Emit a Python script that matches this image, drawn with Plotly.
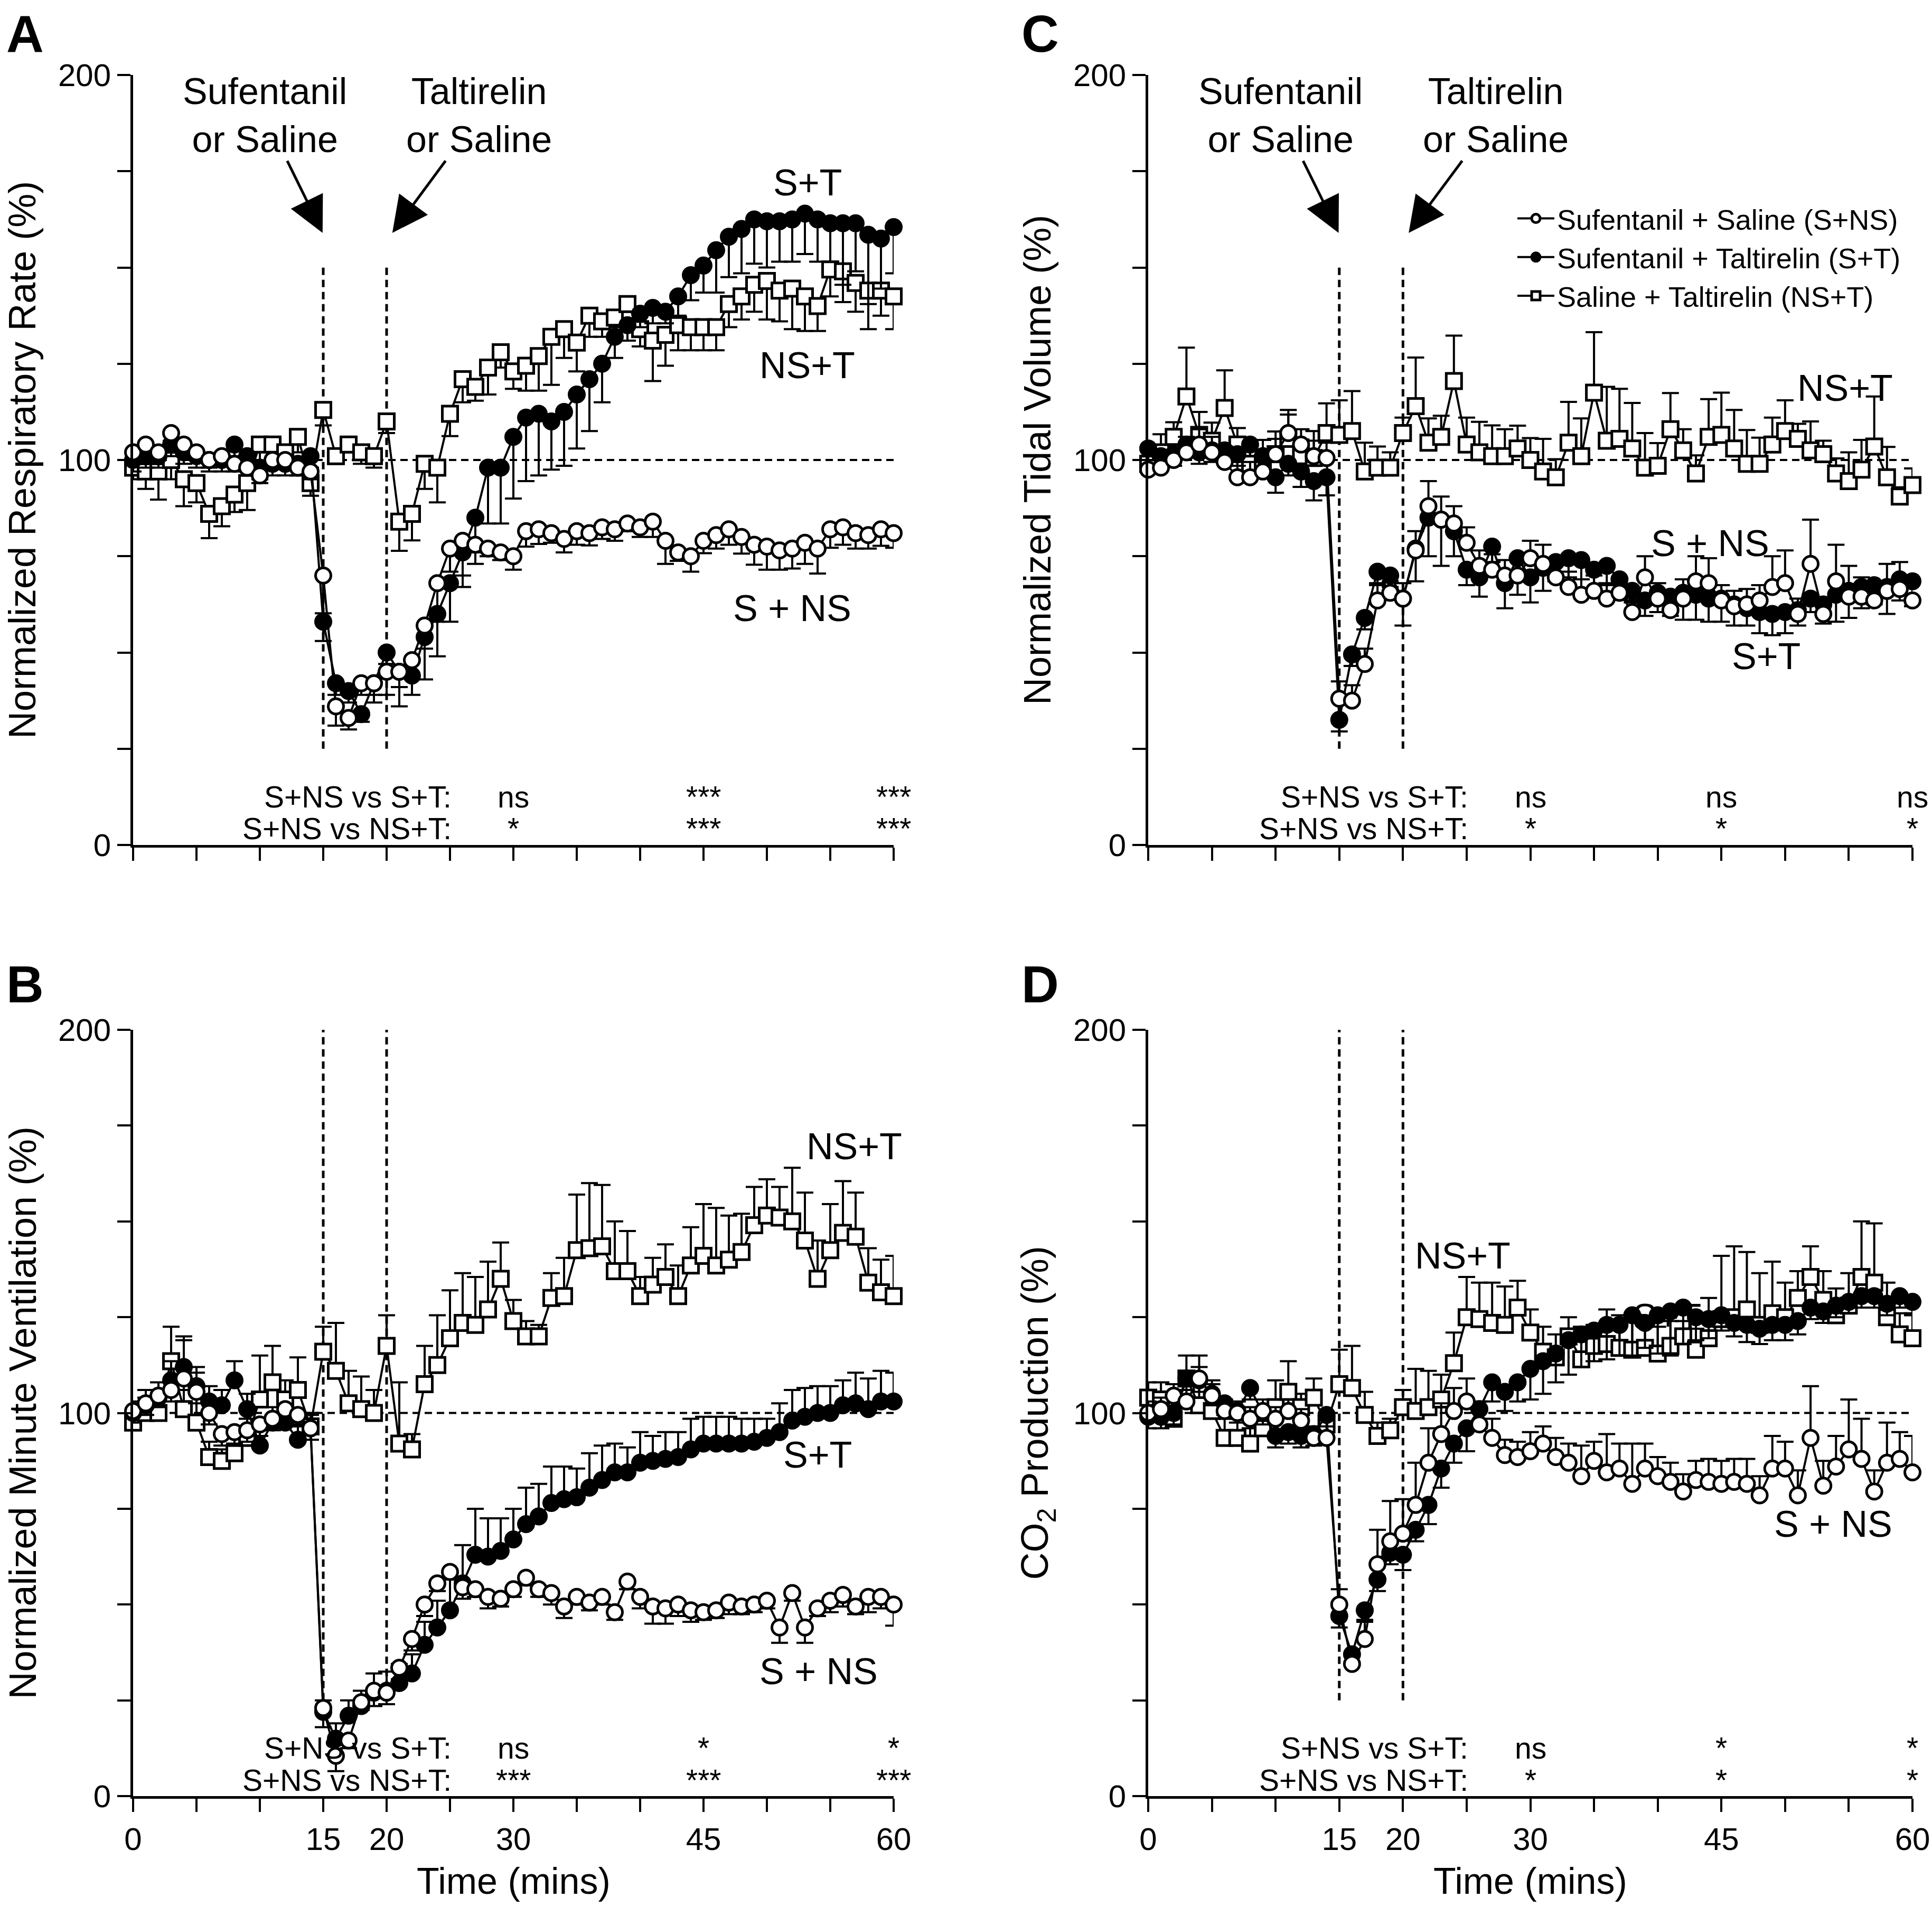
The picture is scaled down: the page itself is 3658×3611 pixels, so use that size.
import plotly.graph_objects as go

W, H = 3658, 3611
minutes = list(range(61))

# ---------------- Panel A : Normalized Respiratory Rate ----------------
a_sns = [102, 104, 102, 107, 104, 102, 100, 101, 99, 98, 96, 100, 100, 98, 97, 70, 36, 33, 42, 42,
         45, 45, 48, 57, 68, 77, 79, 78, 77, 76, 75, 81.5, 82, 81, 79.5, 81.5, 81, 82.5, 82, 83.5,
         82.5, 84, 79, 76, 75, 79, 80.5, 82, 80, 78, 77.5, 76.5, 77, 78.5, 77, 82, 82.5, 81, 80.5, 82, 81]
a_sns_err = [2, 2, 2, 2, 2, 2, 2, 2, 2, 2, 2, 2, 2, 2, 2, 9.8, 5, 3, 3, 5,
             6, 9, 4, 6, 10, 6, 9, 5, 2, 2, 3.5, 4, 3.8, 2.5, 3.5, 3.5, 3.2, 3, 3, 2,
             2.5, 4, 6, 2.2, 4, 3.2, 3.5, 4, 4.3, 5.2, 6, 5, 5.2, 5.5, 6.5, 4.8, 4.5, 4, 3.5, 4.3, 3.8]
a_st = [100, 101, 101, 104, 102, 101, 100, 100, 104, 101, 98, 99, 99, 99, 101, 58, 42, 40, 34, 42,
        50, 45, 44, 54, 60, 68, 76, 85, 98, 98, 106, 111, 112, 110, 112.5, 117, 121, 125, 132, 135,
        138, 139.5, 138.5, 142.5, 148, 150.5, 154.5, 158, 160, 162.5, 162, 162, 162.5, 164, 162.5, 161.5, 161.5, 161.5, 158.5, 157.5, 160.5]
a_st_err = [3, 3, 3, 3, 3, 3, 3, 3, 3, 3, 3, 3, 3, 3, 3, 5, 3, 3, 2, 3,
            3, 4, 5, 11, 11, 10, 9, 9, 14.5, 14.5, 16, 16.5, 16, 12.5, 14, 14, 13.5, 10, 5.5, 4,
            3.5, 4, 3, 5, 6.5, 7, 11, 10.5, 11.5, 11.5, 12, 10.5, 11, 10.5, 11, 10, 16, 12.5, 18, 13, 12]
a_nst = [98, 97, 97, 100, 95, 94, 86, 88, 91, 94, 104, 104, 102, 106, 94, 113, 101, 104, 102, 101,
         110, 84, 86, 99, 98, 112, 121, 119, 124, 128, 123, 124.5, 127, 132, 134, 130.5, 137.5, 136, 137, 140.5,
         134, 131, 132.5, 135, 134.5, 134.5, 134.5, 140.5, 142.5, 145.5, 146.5, 144, 144.5, 142.5, 140, 149.5, 149, 146, 144, 144, 142.5]
a_nst_err = [3, 4.5, 7.3, 5, 7, 5, 6.3, 5.2, 4.5, 7, 5, 5, 4, 4, 3.3, 4, 2, 2, 3, 3,
             3, 7.6, 6.9, 6.5, 9, 5.8, 6, 3.6, 7, 4, 4.5, 6.5, 9, 12.5, 7.5, 7.5, 5.5, 4, 2.5, 2,
             4.5, 10.5, 8, 6.5, 6, 6, 6, 6, 6, 7, 10, 8, 10.5, 9, 6.5, 7, 8, 7.5, 10, 6.5, 8.5]

# ---------------- Panel B : Normalized Minute Ventilation ----------------
b_sns = [100.5, 102.5, 104.5, 106, 109, 105.5, 100, 94.5, 95, 95.5, 97, 98.5, 101, 99.5, 96, 23, 10.5, 14.5, 24.5, 27.5,
         27, 33.5, 41, 50, 55.5, 58.5, 54.5, 54, 52, 51.5, 54, 57, 54, 53, 49.5, 52, 50.5, 52, 48, 56,
         52, 49.5, 49, 50, 48.5, 48, 48.5, 50.5, 49.5, 50, 51, 44, 53, 44, 49, 51, 52.5, 49.5, 52, 52, 50]
b_sns_err = [3, 3, 3, 3, 3, 3, 3, 3, 3, 3, 3, 3, 3, 3, 3, 5, 4, 2, 2, 4,
             3, 3, 3, 3, 2, 2, 3, 2, 3, 2, 2, 2, 2, 3, 3, 2, 2, 2, 2, 2,
             3, 4.5, 4, 3, 3, 2, 2, 3, 2, 2, 2, 4, 2, 4, 2, 3, 3, 2, 4, 3, 5.5]
b_st = [100, 102, 104, 108.5, 112, 107, 103, 102, 108.5, 101, 91.5, 97.5, 97.5, 93, 96, 22, 15, 21, 23.5, 27,
        27.5, 29.5, 32, 39.5, 44, 48.5, 55.5, 63, 62.5, 64, 67, 71, 73, 76.5, 77.5, 78, 80.5, 82.5, 84.5, 84.5,
        87, 87.5, 88, 88.5, 90.5, 92, 92, 92, 92, 92.5, 93.5, 95, 98, 99, 100, 100, 102, 102.5, 101, 103, 103]
b_st_err = [3, 4, 4, 5, 8, 5, 4, 4, 5, 4, 4, 4, 4, 4, 4, 3, 4, 4, 4, 5,
            5, 5, 5, 6, 7, 8, 10, 12, 10, 8.5, 8, 9.5, 8.5, 9.5, 8.5, 7.5, 9, 9, 7.5, 6.5,
            8, 6.5, 7, 6.5, 8, 7, 7, 7, 6.5, 6, 5, 7.5, 8, 7.5, 7, 7, 6.5, 8, 8, 8, 7.5]
b_nst = [97.5, 100, 100, 113.5, 101, 97.5, 88.5, 87.5, 89.5, 93.5, 103.5, 108, 103.5, 106, 96.5, 116, 111, 102.5, 101, 100,
         117.5, 92, 90.5, 107.5, 112.5, 119.5, 123.5, 123, 127, 135, 124, 120, 120, 130, 130.5, 142.5, 143, 143.5, 137, 137,
         130.5, 133.5, 135.5, 130.5, 138.5, 141, 138.5, 140, 142, 149, 151.5, 151, 150, 145, 135, 142.5, 147, 146, 134, 131.5, 130.5]
b_nst_err = [3, 4, 4, 9, 18, 13, 4, 3, 4, 5, 11.5, 9.5, 5, 8.5, 3, 6.5, 12.5, 8.5, 8.5, 6,
             8, 16, 4, 10, 13, 12.5, 13, 12.5, 12.5, 9.5, 5.5, 4, 3, 6.5, 10, 14.5, 17, 16, 13, 10.5,
             5, 7, 8.5, 8, 10, 13.5, 15, 11.5, 10, 10, 9.5, 8, 14, 12.5, 10, 12, 13.5, 11.5, 9, 8.5, 10.5]

# ---------------- Panel C : Normalized Tidal Volume ----------------
c_sns = [97.5, 98, 100, 102, 104, 102, 99.5, 95.5, 95.5, 97, 101.5, 107, 104, 101, 100.5, 38, 37.5, 47, 63.5, 65.5,
         64, 76.5, 88, 84.5, 83.5, 78.5, 72.5, 71.5, 70, 70, 74.5, 73, 69.5, 67, 65, 66, 64, 65.5, 60.5, 69.5,
         64, 61, 64, 68.5, 68, 63.5, 62, 62.5, 63.5, 67, 68, 60, 73, 60, 68.5, 64.5, 64.5, 63.5, 66, 66.5, 63.5]
c_sns_err = [4, 4, 4, 4, 4, 4, 4, 4, 4, 4, 4, 6, 4, 4, 4, 4.5, 4, 4, 4, 3,
             4, 5, 6.5, 6, 4.5, 4, 4, 4, 4, 4, 4.5, 5, 4, 4, 4, 4, 4, 4, 3, 5.5,
             4, 3, 5, 6.5, 6.5, 4, 4, 4, 4, 8, 8.5, 4, 11.5, 4, 9.5, 8, 5, 5, 7, 7, 4]
c_st = [103, 101, 101.5, 104, 102, 102.5, 102.5, 101.5, 104, 101, 95.5, 99, 97, 94.5, 95.5, 32.5, 49.5, 59, 71, 70,
        64, 77, 85, 84.5, 81.5, 71.5, 69.5, 77.5, 68, 74.5, 69.5, 72, 73.5, 74.5, 74, 71.5, 72.5, 69, 66, 63.5,
        65.5, 64.5, 65.5, 65, 64, 64, 62.5, 61.5, 60.5, 60, 60.5, 61, 64, 62.5, 65, 66, 67, 67.5, 67, 69, 68.5]
c_st_err = [3, 3, 3, 3, 3, 3, 3, 3, 3, 4, 4, 3, 4, 5, 4.7, 3, 3, 3, 3, 3,
            7, 8.5, 10, 12, 6.5, 4, 5, 4, 6.5, 9.5, 6.5, 6, 5, 5, 5, 5, 5, 5, 3, 4,
            5, 5, 7, 6.5, 6, 6, 5.5, 4.5, 5.5, 5.5, 5.5, 4, 3.5, 5, 7, 7, 5.5, 5, 7, 5.5, 6.5]
c_nst = [99, 102, 106, 116.5, 106.5, 105, 113.5, 104, 99, 99, 101.5, 105.5, 101, 100.5, 107, 106.5, 107.5, 97, 98, 98,
         107, 114, 104.5, 106, 120.5, 104, 102, 101, 101, 103, 100, 97, 95.5, 104.5, 101, 117.5, 105, 105.5, 103, 98,
         98.5, 108, 102.5, 96.5, 106, 106.5, 103, 99, 99, 104, 107.5, 105.5, 102.5, 101.5, 96.5, 94.5, 97.5, 103.5, 95.5, 90.5, 93.5]
c_nst_err = [3, 4.7, 3.8, 12.7, 6, 4.7, 9.8, 4.3, 6, 6.2, 5.9, 6.3, 4.3, 7, 7.7, 9, 10.4, 7.5, 5.5, 4,
             4, 12.6, 6.3, 5.5, 11.8, 7, 7.9, 8, 7, 5.9, 5.7, 8.5, 4.7, 10.6, 9.8, 15.7, 14, 13, 11.8, 9,
             5.9, 9.4, 5.5, 4.7, 9.8, 11, 10, 8.8, 6.8, 7, 8, 3.9, 7.5, 3.5, 3.9, 7.5, 7.7, 13, 7.9, 2.4, 4.3]

# ---------------- Panel D : CO2 Production ----------------
d_sns = [100, 101, 104.5, 103, 109, 104.5, 100.5, 100, 98.5, 100.5, 98.5, 100.5, 98, 93.5, 93.5, 50, 34.5, 41, 60.5, 66.5,
         68.5, 76, 87, 94.5, 100.5, 103, 97, 93.5, 89, 88.5, 90, 92, 88.5, 87, 83.5, 87.5, 84.5, 85.5, 81.5, 85.5,
         83.5, 82, 79.5, 82.5, 82, 81.5, 82, 81.5, 78.5, 85.5, 85.5, 78.5, 93.5, 81, 86, 90.5, 88, 79.5, 87, 88, 84.5]
d_sns_err = [3, 3, 3, 3, 3, 3, 3, 3, 3, 3, 3, 3, 3, 3, 3, 4, 2, 5, 9, 10.5,
             9, 11, 9, 8, 6, 6, 6, 5, 4, 4, 5, 4.5, 5, 5, 8, 5, 10, 6.5, 10.5, 6.5,
             5, 5, 4.5, 5, 6, 6, 6, 6.5, 5, 8.5, 7, 6.5, 13.5, 6.5, 8, 13, 10.5, 5.5, 10.5, 7, 9.5]
d_st = [99, 99, 100, 109, 108.5, 105, 102.5, 100.5, 106.5, 100, 94, 95, 94, 94.5, 99.5, 47, 37, 48.5, 56.5, 63.5,
        63, 69.5, 76, 85.5, 92, 96, 101, 108, 105.5, 108, 111.5, 113.5, 115.5, 119, 120.5, 121.5, 123, 123, 125.5, 123.5,
        125.5, 126.5, 127.5, 125, 124.5, 125.5, 123.5, 123, 122, 123, 123, 124, 127.5, 126.5, 128, 129, 130.5, 130.5, 128.5, 130.5, 129]
d_st_err = [3, 3, 3, 3, 3, 3, 3, 3, 3, 3, 3, 3, 3, 3, 3, 3, 2, 3, 3, 3,
            4, 3, 5, 5, 5, 6, 5, 5, 5, 5, 8, 8.5, 7.5, 9, 8.5, 8, 9, 8, 10.5, 6.5,
            10, 11.5, 9.5, 6, 5, 4, 3.5, 4.5, 4, 4, 4, 3.5, 3, 3, 3, 3, 3, 3, 3, 3, 3]
d_nst = [104, 103.5, 98.5, 109, 102, 100.5, 93.5, 93.5, 92, 96, 101.5, 105.5, 101.5, 104, 97, 107.5, 106.5, 99.5, 94, 95.5,
         101.5, 100.5, 101.5, 103.5, 113, 125, 124.5, 123.5, 123, 127.5, 121, 116, 114.5, 120, 114, 117.5, 118, 117, 116.5, 117,
         115.5, 117.5, 120, 116.5, 119.5, 124.5, 125, 127, 123, 126, 125, 130, 135.5, 129.5, 125.5, 128, 135.5, 134, 125, 120.5, 119.5]
d_nst_err = [4, 4.5, 3, 6, 13, 8, 5, 5, 4, 5, 7, 8, 3.5, 5, 3, 9, 11, 6, 3.5, 3,
             4.5, 11, 9.5, 6.5, 8, 10.5, 9.5, 10.5, 10, 7, 6, 6.5, 6, 5, 8.5, 5.5, 9, 8.5, 8, 7.5,
             7, 6.5, 4, 5.5, 10.5, 16.5, 18.5, 15, 13.5, 13.5, 9, 7, 8, 7.5, 7, 8.5, 14.5, 15.5, 9, 5.5, 6]

# ---------------- Text / ticks ----------------
series_names = ["Sufentanil + Saline (S+NS)", "Sufentanil + Taltirelin (S+T)", "Saline + Taltirelin (NS+T)"]
x_major_ticks = [0, 15, 20, 30, 45, 60]
x_minor_step = 5
y_major_ticks = [0, 100, 200]
y_minor_step = 25
stat_labels = ["S+NS vs S+T:", "S+NS vs NS+T:"]
stat_times = [30, 45, 60]

FONT = "Liberation Sans, Arial, Helvetica, sans-serif"

panels = [
    dict(letter="A", xa="x", ya="y", xd=[252, 1692], yd=[142, 1600], letter_y=64,
         data=dict(sns=(a_sns, a_sns_err, "down"), st=(a_st, a_st_err, "down"), nst=(a_nst, a_nst_err, "down")),
         ytitle="Normalized Respiratory Rate (%)", xlabels=False, arrows=True, vline_top=151,
         stats=[["ns", "***", "***"], ["*", "***", "***"]],
         labels=[("S+T", 53.2, 172), ("NS+T", 53.2, 124.5), ("S + NS", 52, 61.5)]),
    dict(letter="B", xa="x2", ya="y2", xd=[252, 1692], yd=[1950, 3401], letter_y=1864,
         data=dict(sns=(b_sns, b_sns_err, "down"), st=(b_st, b_st_err, "up"), nst=(b_nst, b_nst_err, "up")),
         ytitle="Normalized Minute Ventilation (%)", xlabels=True, arrows=False, vline_top=200,
         stats=[["ns", "*", "*"], ["***", "***", "***"]],
         labels=[("NS+T", 56.9, 169.5), ("S+T", 54, 89), ("S + NS", 54.1, 32.5)]),
    dict(letter="C", xa="x3", ya="y3", xd=[2174, 3621], yd=[142, 1600], letter_y=64,
         data=dict(sns=(c_sns, c_sns_err, "up"), st=(c_st, c_st_err, "down"), nst=(c_nst, c_nst_err, "up")),
         ytitle="Normalized Tidal Volume (%)", xlabels=False, arrows=True, vline_top=151,
         stats=[["ns", "ns", "ns"], ["*", "*", "*"]],
         labels=[("NS+T", 54.7, 118.7), ("S + NS", 44.1, 78.3), ("S+T", 48.5, 49)]),
    dict(letter="D", xa="x4", ya="y4", xd=[2174, 3621], yd=[1950, 3401], letter_y=1864,
         data=dict(sns=(d_sns, d_sns_err, "up"), st=(d_st, d_st_err, "down"), nst=(d_nst, d_nst_err, "up")),
         ytitle="CO<sub>2</sub> Production (%)", xlabels=True, arrows=False, vline_top=200,
         stats=[["ns", "*", "*"], ["*", "*", "*"]],
         labels=[("NS+T", 24.7, 141), ("S+T", 40.7, 125), ("S + NS", 53.8, 71)]),
]

styles = {
    "nst": dict(symbol="square", color="white", name=series_names[2], rank=3),
    "st": dict(symbol="circle", color="black", name=series_names[1], rank=2),
    "sns": dict(symbol="circle", color="white", name=series_names[0], rank=1),
}

fig = go.Figure()
layout = dict(template="none", width=W, height=H, autosize=False,
              margin=dict(l=0, r=0, t=0, b=0, pad=0, autoexpand=False),
              paper_bgcolor="white", plot_bgcolor="white",
              font=dict(family=FONT, color="black", size=60))
annotations = []
shapes = []

tick_style = dict(ticks="outside", ticklen=25, tickwidth=4, tickcolor="black")

for p in panels:
    xa, ya = p["xa"], p["ya"]
    xkey = "xaxis" + xa[1:]
    ykey = "yaxis" + ya[1:]
    layout[xkey] = dict(domain=[p["xd"][0] / W, p["xd"][1] / W], anchor=ya, range=[0, 60],
                        automargin=False, showgrid=False, zeroline=False,
                        showline=True, linecolor="black", linewidth=5,
                        tickmode="array", tickvals=x_major_ticks, showticklabels=p["xlabels"],
                        minor=dict(tickmode="linear", tick0=0, dtick=x_minor_step, showgrid=False, **tick_style),
                        tickfont=dict(size=60, family=FONT), **tick_style)
    layout[ykey] = dict(domain=[1 - p["yd"][1] / H, 1 - p["yd"][0] / H], anchor=xa, range=[0, 200],
                        automargin=False, showgrid=False, zeroline=False,
                        showline=True, linecolor="black", linewidth=5,
                        tickmode="array", tickvals=y_major_ticks,
                        minor=dict(tickmode="linear", tick0=0, dtick=y_minor_step, showgrid=False, **tick_style),
                        tickfont=dict(size=60, family=FONT), **tick_style)

    for key in ["nst", "st", "sns"]:
        vals, err, direction = p["data"][key]
        st = styles[key]
        zeros = [0] * len(err)
        ey = dict(type="data", symmetric=False, color="black", thickness=4, width=16,
                  array=err if direction == "up" else zeros,
                  arrayminus=err if direction == "down" else zeros)
        fig.add_trace(go.Scatter(
            x=minutes, y=vals, xaxis=xa, yaxis=ya, mode="lines+markers",
            line=dict(color="black", width=4),
            marker=dict(symbol=st["symbol"], size=29, color=st["color"], line=dict(color="black", width=5)),
            error_y=ey, cliponaxis=False, name=st["name"], legendrank=st["rank"],
            showlegend=(p["letter"] == "C")))

    # reference lines
    shapes.append(dict(type="line", xref=xa, yref=ya, x0=0, x1=60, y0=100, y1=100,
                       line=dict(color="black", width=4, dash="14px,9px"), layer="below"))
    for t in (15, 20):
        shapes.append(dict(type="line", xref=xa, yref=ya, x0=t, x1=t, y0=25, y1=p["vline_top"],
                           line=dict(color="black", width=5, dash="14px,9px"), layer="below"))

    # panel letter
    annotations.append(dict(text="<b>%s</b>" % p["letter"], xref="paper", yref="paper",
                            x=(p["xd"][0] - 205) / W, y=1 - p["letter_y"] / H,
                            xanchor="center", yanchor="middle", showarrow=False,
                            font=dict(size=98, family=FONT)))
    # y title
    annotations.append(dict(text=p["ytitle"], xref="paper", yref="paper",
                            x=(p["xd"][0] - 210) / W, y=1 - (p["yd"][0] + p["yd"][1]) / 2 / H,
                            textangle=-90, xanchor="center", yanchor="middle", showarrow=False,
                            font=dict(size=72, family=FONT)))
    if p["xlabels"]:
        annotations.append(dict(text="Time (mins)", xref="paper", yref="paper",
                                x=(p["xd"][0] + p["xd"][1]) / 2 / W, y=1 - 3562 / H,
                                xanchor="center", yanchor="middle", showarrow=False,
                                font=dict(size=70, family=FONT)))
    # series labels
    for txt, tx, ty in p["labels"]:
        annotations.append(dict(text=txt, xref=xa, yref=ya, x=tx, y=ty, showarrow=False,
                                xanchor="center", yanchor="middle", font=dict(size=70, family=FONT)))
    # statistics rows
    for row, (lab, marks) in enumerate(zip(stat_labels, p["stats"])):
        yv = 12.5 if row == 0 else 4.2
        annotations.append(dict(text=lab, xref=xa, yref=ya, x=25.2, y=yv, showarrow=False,
                                xanchor="right", yanchor="middle", font=dict(size=57, family=FONT)))
        for tx, m in zip(stat_times, marks):
            annotations.append(dict(text=m, xref=xa, yref=ya, x=tx, y=yv, showarrow=False,
                                    xanchor="center", yanchor="middle", font=dict(size=57, family=FONT)))
    # injection labels with arrows
    if p["arrows"]:
        annotations.append(dict(text="Sufentanil<br>or Saline", xref=xa, yref=ya, x=14.95, y=159,
                                axref=xa, ayref=ya, ax=10.4, ay=189.5,
                                showarrow=True, arrowhead=2, arrowsize=2.7, arrowwidth=5,
                                arrowcolor="black", font=dict(size=70, family=FONT)))
        annotations.append(dict(text="Taltirelin<br>or Saline", xref=xa, yref=ya, x=20.45, y=159,
                                axref=xa, ayref=ya, ax=27.3, ay=189.5,
                                showarrow=True, arrowhead=2, arrowsize=2.7, arrowwidth=5,
                                arrowcolor="black", font=dict(size=70, family=FONT)))

layout["annotations"] = annotations
layout["shapes"] = shapes
layout["showlegend"] = True
layout["legend"] = dict(x=2868 / W, y=1 - 372 / H, xanchor="left", yanchor="top",
                        bgcolor="rgba(0,0,0,0)", font=dict(size=54, family=FONT),
                        itemwidth=70, tracegroupgap=0, borderwidth=0)
fig.update_layout(**layout)

fig.write_html("out.html", config={"displayModeBar": False},
               post_script="document.body.style.margin='0';document.body.style.overflow='hidden';")
